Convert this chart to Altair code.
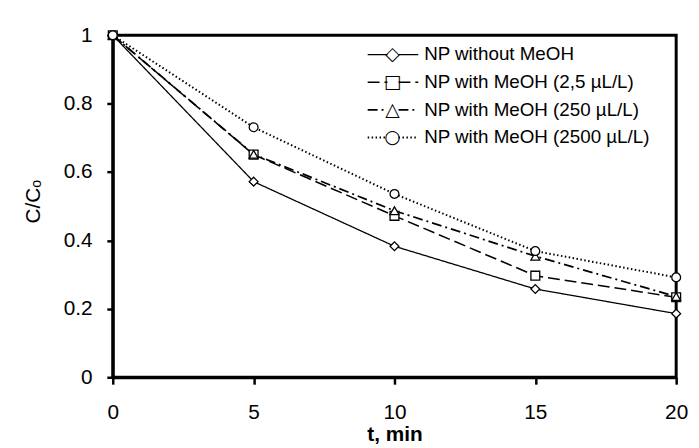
import altair as alt
import pandas as pd

t_min = [0, 5, 10, 15, 20]
series_names = [
    "NP without MeOH",
    "NP with MeOH (2,5 µL/L)",
    "NP with MeOH (250 µL/L)",
    "NP with MeOH (2500 µL/L)",
]
s_without = [1.0, 0.572, 0.383, 0.258, 0.186]
s_2_5 = [1.0, 0.651, 0.472, 0.297, 0.234]
s_250 = [1.0, 0.652, 0.487, 0.354, 0.236]
s_2500 = [1.0, 0.731, 0.536, 0.369, 0.292]
y_ticks = [0, 0.2, 0.4, 0.6, 0.8, 1]

marker_keys = ["m1", "m2", "m3", "m4"]
rows = []
for name, key, vals in zip(series_names, marker_keys, [s_without, s_2_5, s_250, s_2500]):
    for tt, v in zip(t_min, vals):
        rows.append({"t": tt, "c": v, "series": name, "marker": key})
df = pd.DataFrame(rows)

dashes = [[1, 0], [12, 5], [10, 4, 2, 4], [1.5, 2.5]]
widths = [1.3, 2.0, 1.3, 1.2]
shapes = ["diamond", "square", "triangle-up", "circle"]
glyph_expr = "{'m1': '\u25c7', 'm2': '\u25a1', 'm3': '\u25b3', 'm4': '\u25cb'}[datum.label]"

x = alt.X(
    "t:Q",
    scale=alt.Scale(domain=[0, 20], nice=False, zero=False),
    axis=alt.Axis(
        values=t_min, title="t, min", tickSize=7, labelPadding=18, labelFlush=False,
        titleFontWeight="bold", titleX=285, titleY=64, titleBaseline="alphabetic",
    ),
)
y = alt.Y(
    "c:Q",
    scale=alt.Scale(domain=[0, 1], nice=False),
    axis=alt.Axis(
        values=y_ticks, format="~g", title="C/Cₒ", tickSize=6, labelPadding=15,
        labelFlush=False, titleFontWeight="normal", titleX=-74, titleY=168,
        titleBaseline="alphabetic", titleAngle=270, titleAlign="center",
    ),
)

lines = alt.Chart(df).mark_line(color="black").encode(
    x=x,
    y=y,
    strokeDash=alt.StrokeDash(
        "series:N",
        sort=series_names,
        scale=alt.Scale(domain=series_names, range=dashes),
        legend=alt.Legend(
            title=None, orient="none", legendX=253, legendY=10,
            symbolType="M-6.4,0H-1.4M1.4,0H6.4", symbolSize=64, symbolOffset=21,
            symbolStrokeColor="black", symbolStrokeWidth=1.4,
            labelOffset=22, rowPadding=8, labelLimit=400,
        ),
    ),
    strokeWidth=alt.StrokeWidth(
        "series:N", scale=alt.Scale(domain=series_names, range=widths), legend=None
    ),
)

points = alt.Chart(df).mark_point(
    filled=False, fill="white", fillOpacity=1, stroke="black", strokeWidth=1.3,
    size=80, opacity=1,
).encode(
    x=x,
    y=y,
    shape=alt.Shape(
        "marker:N",
        scale=alt.Scale(domain=marker_keys, range=shapes),
        legend=alt.Legend(
            title=None, orient="none", legendX=258, legendY=10,
            symbolSize=1, symbolOpacity=0, labelExpr=glyph_expr,
            labelFont="DejaVu Sans", labelFontSize=19, labelAlign="center",
            labelOffset=6, rowPadding=8,
        ),
    ),
)

chart = (
    alt.layer(lines, points)
    .properties(
        width=570,
        height=346,
        autosize=alt.AutoSizeParams(type="none"),
        padding={"left": 106, "top": 25, "right": 15, "bottom": 70},
        background="white",
    )
    .configure_view(stroke="black", strokeWidth=3)
    .configure_axis(
        grid=False,
        domainColor="black",
        domainWidth=3,
        tickColor="black",
        tickWidth=2.5,
        labelFont="Liberation Sans",
        labelFontSize=21,
        labelColor="black",
        titleFont="Liberation Sans",
        titleFontSize=21,
        titleColor="black",
    )
    .configure_legend(
        labelFont="Liberation Sans",
        labelFontSize=19,
        labelColor="black",
        padding=0,
    )
)

chart.save("out.html", embed_options={"renderer": "svg", "actions": False})
